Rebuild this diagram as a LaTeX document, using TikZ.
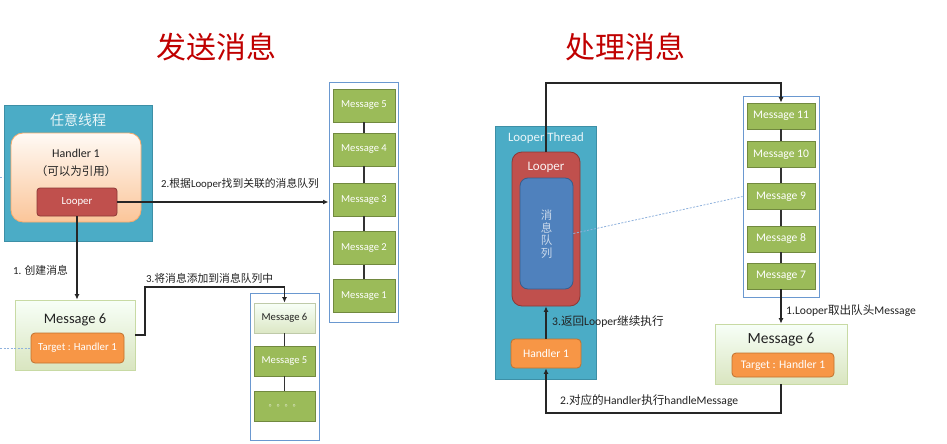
\documentclass[tikz,border=0pt]{standalone}
\usepackage{fontspec}
\setmainfont{Carlito}
\newfontfamily\cjk{Noto Sans CJK SC}
\usetikzlibrary{arrows.meta}
\definecolor{cTeal}{HTML}{4BACC6}
\definecolor{cTealB}{HTML}{3D8FA6}
\definecolor{cRed}{HTML}{C0504D}
\definecolor{cRedB}{HTML}{8C3836}
\definecolor{cGreen}{HTML}{9BBB59}
\definecolor{cGreenB}{HTML}{71893F}
\definecolor{cOrange}{HTML}{F79646}
\definecolor{cOrangeB}{HTML}{C0722F}
\definecolor{cBlue}{HTML}{4F81BD}
\definecolor{cBlueB}{HTML}{385D8A}
\definecolor{cQueue}{HTML}{6A98D0}
\definecolor{cTitle}{HTML}{C00000}
\definecolor{cTxt}{HTML}{222222}
\definecolor{cDot}{HTML}{8FB2DD}
\tikzset{
  fs/.style={font=\fontsize{#1}{#1}\selectfont},
  lbl/.style={inner sep=0pt, text=cTxt},
  thread/.style={draw=cTealB, fill=cTeal, line width=0.8pt},
  redbox/.style={draw=cRedB, fill=cRed, line width=0.8pt, text=white},
  msg/.style={draw=cGreenB, fill=cGreen, line width=0.8pt, text=white},
  newmsg/.style={draw=cGreenB!45, top color=green!3!white, bottom color=cGreen!35!white, line width=0.8pt, text=cTxt},
  bigmsg/.style={draw=cGreen!55, top color=green!3!white, bottom color=cGreen!38!white, line width=0.8pt},
  target/.style={draw=cOrangeB, fill=cOrange, line width=0.8pt, rounded corners=4pt, text=white},
  queue/.style={draw=cQueue, line width=1pt},
  conn/.style={draw=black!85, line width=1.5pt},
  arr/.style={conn, -{Latex[length=5.5pt,width=5pt]}},
  chain/.style={draw=black!80, line width=1.2pt},
  dotl/.style={draw=cDot, line width=0.8pt, dash pattern=on 2pt off 1.5pt}
}
\begin{document}
\begin{tikzpicture}[x=1pt,y=-1pt]
\useasboundingbox (0,0) rectangle (947,444);
\fill[white] (0,0) rectangle (947,444);

% titles
\node[lbl, text=cTitle, font=\cjk\fontsize{30}{30}\selectfont] (t1) at (216,47) {发送消息};
\node[lbl, text=cTitle, font=\cjk\fontsize{30}{30}\selectfont] (t2) at (625,47) {处理消息};

% ---------------- left panel ----------------
\coordinate (e1a) at (0,177);
\coordinate (e1b) at (9,177);
\coordinate (e2a) at (0,348);
\coordinate (e2b) at (31,348);
\draw[dotl] (e1a) -- (e1b);

\node[thread, minimum width=148, minimum height=136] (th1) at (78,173) {};
\node[lbl, text=white!88!cTeal, font=\cjk\fontsize{14}{14}\selectfont] (th1l) at (78,120) {任意线程};
\node[draw=cOrange!80, line width=0.8pt, top color=orange!4!white, bottom color=cOrange!55!white,
      rounded corners=12pt, minimum width=130, minimum height=89] (h1) at (76,177.5) {};
\node[lbl, fs=12] (h1a) at (76,153) {Handler 1};
\node[lbl, font=\cjk\fontsize{11.5}{11.5}\selectfont] (h1b) at (76,171) {（可以为引用）};
\node[redbox, rounded corners=3pt, minimum width=80, minimum height=28, fs=10.8] (lp1) at (77,202) {Looper};

\node[bigmsg, minimum width=120, minimum height=70] (m6a) at (75,335) {};
\node[lbl, fs=14.5] (m6al) at (75,320) {Message 6};
\node[target, minimum width=93, minimum height=30, fs=10.8] (tg1) at (77.5,348) {Target : Handler 1};
\draw[dotl] (e2a) -- (e2b);

% queue 1
\node[queue, minimum width=69, minimum height=240] (q1) at (363.5,202) {};
\node[msg, minimum width=62, minimum height=33, fs=10.6] (q1m5) at (364,105.5) {Message 5};
\node[msg, minimum width=62, minimum height=33, fs=10.6] (q1m4) at (364,149.5) {Message 4};
\node[msg, minimum width=62, minimum height=33, fs=10.6] (q1m3) at (364,199.5) {Message 3};
\node[msg, minimum width=62, minimum height=33, fs=10.6] (q1m2) at (364,248) {Message 2};
\node[msg, minimum width=62, minimum height=33, fs=10.6] (q1m1) at (364,296) {Message 1};
\draw[chain] (q1m5) -- (q1m4);
\draw[chain] (q1m4) -- (q1m3);
\draw[chain] (q1m3) -- (q1m2);
\draw[chain] (q1m2) -- (q1m1);

% queue 2
\node[queue, minimum width=69, minimum height=147] (q2) at (284.5,366.5) {};
\node[newmsg, minimum width=61, minimum height=30, fs=10.6] (q2m6) at (284.5,318) {Message 6};
\node[msg, minimum width=61, minimum height=30, fs=10.6] (q2m5) at (284.5,361) {Message 5};
\node[msg, minimum width=61, minimum height=30, text=white!85!cGreen, font=\cjk\fontsize{8}{8}\selectfont] (q2d) at (284.5,406) {。。。。};
\draw[chain] (q2m6) -- (q2m5);
\draw[chain] (q2m5) -- (q2d);

% connectors left
\draw[arr] (lp1.east) -- (lp1.east -| q1.west);
\node[lbl, anchor=west, fs=10.8] (l2) at (161,184) {2.{\cjk 根据}Looper{\cjk 找到关联的消息队列}};
\draw[arr] (lp1.south) -- (lp1.south |- m6a.north);
\node[lbl, anchor=west, fs=10.8] (l1) at (13,270) {1. {\cjk 创建消息}};
\coordinate (c3) at (145,287);
\draw[arr] (m6a.east) -| (c3) -| (q2m6.north);
\node[lbl, anchor=west, fs=10.8] (l3) at (146,278) {3.{\cjk 将消息添加到消息队列中}};

% ---------------- right panel ----------------
\node[thread, minimum width=101, minimum height=253] (th2) at (545.5,252.5) {};
\node[lbl, text=white!88!cTeal, fs=12.8] (th2l) at (546,138) {Looper Thread};
\node[redbox, rounded corners=10pt, minimum width=68, minimum height=154] (lp2) at (546,229) {};
\node[lbl, text=white!92!cRed, fs=13] (lp2l) at (546,167) {Looper};
\node[draw=cBlueB, fill=cBlue, line width=0.8pt, rounded corners=8pt, minimum width=53, minimum height=111] (mq) at (546.5,233.5) {};
\node[lbl, text=cBlue!30!white, align=center, font=\cjk\fontsize{11.5}{12.5}\selectfont] (mql) at (546.5,234) {消\\息\\队\\列};
\node[target, minimum width=70, minimum height=29, fs=11.6] (h2) at (546,353.5) {Handler 1};

% queue 3
\node[queue, minimum width=76, minimum height=201] (q3) at (781,196.5) {};
\node[msg, minimum width=68, minimum height=26, fs=11.6] (q3m11) at (781,116) {Message 11};
\node[msg, minimum width=68, minimum height=26, fs=11.6] (q3m10) at (781,154.5) {Message 10};
\node[msg, minimum width=68, minimum height=26, fs=11.6] (q3m9) at (781,196.5) {Message 9};
\node[msg, minimum width=68, minimum height=26, fs=11.6] (q3m8) at (781,239) {Message 8};
\node[msg, minimum width=68, minimum height=26, fs=11.6] (q3m7) at (781,276) {Message 7};
\draw[chain] (q3m11) -- (q3m10);
\draw[chain] (q3m10) -- (q3m9);
\draw[chain] (q3m9) -- (q3m8);
\draw[chain] (q3m8) -- (q3m7);

\node[bigmsg, minimum width=132, minimum height=60] (m6b) at (781,354) {};
\node[lbl, fs=15.5] (m6bl) at (781,340) {Message 6};
\node[target, minimum width=102, minimum height=24, fs=11.6] (tg2) at (783,365) {Target : Handler 1};

% connectors right
\draw[dotl] (mq.east) -- (q3.west);
\coordinate (c4) at (546,83);
\draw[arr] (lp2.north) -- (c4) -| (q3m11.north);
\draw[arr] (q3m7.south) -- (m6b.north);
\node[lbl, anchor=west, fs=11.6] (r1) at (786,311) {1.Looper{\cjk 取出队头}Message};
\draw[arr] (h2.north) -- (lp2.south);
\node[lbl, anchor=west, fs=11.6] (r3) at (552,322) {3.{\cjk 返回}Looper{\cjk 继续执行}};
\coordinate (c5) at (781,413);
\draw[arr] (m6b.south) -- (c5) -| (h2.south);
\node[lbl, anchor=west, fs=11.6] (r2) at (560,401) {2.{\cjk 对应的}Handler{\cjk 执行}handleMessage};
\end{tikzpicture}
\end{document}
